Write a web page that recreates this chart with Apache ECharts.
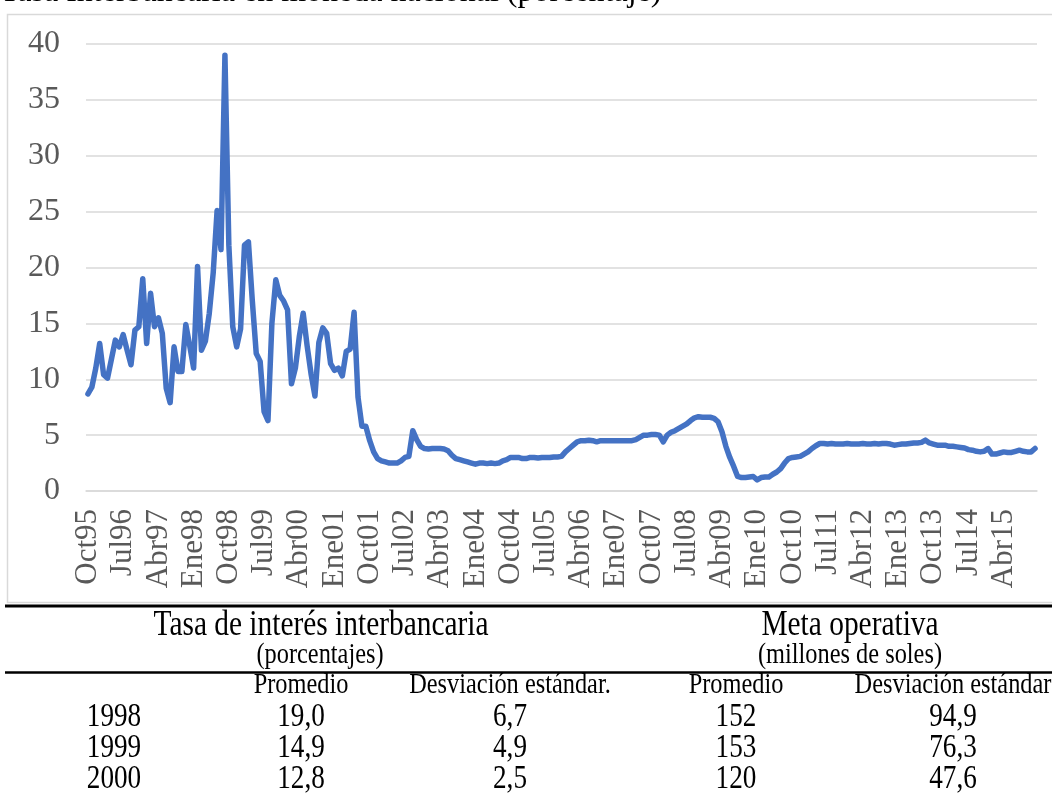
<!DOCTYPE html>
<html>
<head>
<meta charset="utf-8">
<title>Tasa interbancaria</title>
<script src="https://cdn.jsdelivr.net/npm/echarts@6/dist/echarts.min.js"></script>
<style>
  html, body { margin: 0; padding: 0; background: #fff; }
  #chart { width: 1052px; height: 796px; }
</style>
</head>
<body>
<div id="chart"></div>
<script>
// tasa interbancaria mensual (%), desde Oct95
const rate1995_1998 = [8.7, 9.3, 11.0,
  13.2, 10.4, 10.1, 11.8, 13.5, 12.9, 14.0, 12.6, 11.3, 14.4, 14.7, 19.0,
  13.2, 17.7, 14.7, 15.5, 14.1, 9.2, 7.9, 12.9, 10.7, 10.7, 14.9, 13.0,
  11.0, 20.1, 12.6, 13.4, 15.9, 19.5, 25.1, 21.6, 39.0, 22.0, 14.7, 12.9];
const rate1999_2002 = [
  14.5, 22.0, 22.3, 17.0, 12.3, 11.6, 7.1, 6.3, 15.0, 18.9, 17.5, 17.0,
  16.2, 9.6, 11.0, 13.8, 15.9, 13.0, 10.5, 8.5, 13.3, 14.6, 14.1, 11.4,
  10.8, 11.0, 10.3, 12.5, 12.7, 16.0, 8.4, 5.8, 5.8, 4.5, 3.5, 2.9,
  2.7, 2.6, 2.5, 2.5, 2.5, 2.7, 3.0, 3.1, 5.4, 4.6, 4.0, 3.8];
const rate2003_2006 = [
  3.75, 3.8, 3.8, 3.8, 3.75, 3.6, 3.2, 2.9, 2.8, 2.7, 2.6, 2.5,
  2.4, 2.5, 2.5, 2.45, 2.5, 2.45, 2.5, 2.7, 2.8, 3.0, 3.0, 3.0,
  2.9, 2.9, 3.0, 3.0, 2.95, 3.0, 3.0, 3.0, 3.05, 3.05, 3.1, 3.5,
  3.8, 4.1, 4.4, 4.5, 4.5, 4.55, 4.5, 4.4, 4.5, 4.5, 4.5, 4.5];
const rate2007_2010 = [
  4.5, 4.5, 4.5, 4.5, 4.5, 4.6, 4.8, 5.0, 5.0, 5.05, 5.05, 5.0,
  4.4, 5.0, 5.25, 5.4, 5.6, 5.8, 6.0, 6.3, 6.55, 6.65, 6.6, 6.6,
  6.6, 6.5, 6.2, 5.3, 4.0, 3.0, 2.2, 1.3, 1.2, 1.2, 1.25, 1.3,
  1.0, 1.2, 1.25, 1.25, 1.5, 1.7, 2.0, 2.5, 2.9, 3.0, 3.05, 3.1];
const rate2011_2015 = [
  3.3, 3.5, 3.8, 4.05, 4.25, 4.25, 4.2, 4.25, 4.2, 4.2, 4.2, 4.25,
  4.2, 4.2, 4.2, 4.25, 4.2, 4.2, 4.25, 4.2, 4.25, 4.25, 4.2, 4.1,
  4.15, 4.2, 4.2, 4.25, 4.3, 4.3, 4.35, 4.55, 4.3, 4.2, 4.1, 4.1,
  4.1, 4.0, 4.0, 3.95, 3.9, 3.85, 3.7, 3.65, 3.55, 3.5, 3.55, 3.8,
  3.3, 3.3, 3.4, 3.5, 3.45, 3.45, 3.55, 3.65, 3.55, 3.5, 3.5, 3.8];

const monthNames = ['Ene', 'Feb', 'Mar', 'Abr', 'May', 'Jun', 'Jul', 'Ago', 'Sep', 'Oct', 'Nov', 'Dic'];
const startYear = 1995;
const startMonth = 9; // Oct

// tabla de abajo
const tableYears = ['1998', '1999', '2000'];
const tasaPromedio = ['19,0', '14,9', '12,8'];
const tasaDesviacion = ['6,7', '4,9', '2,5'];
const metaPromedio = ['152', '153', '120'];
const metaDesviacion = ['94,9', '76,3', '47,6'];
const tableHeaders = ['Promedio', 'Desviación estándar.', 'Promedio', 'Desviación estándar'];

const rates = [].concat(rate1995_1998, rate1999_2002, rate2003_2006, rate2007_2010, rate2011_2015);
const months = rates.map(function (v, i) {
  const m = startMonth + i;
  const yy = String((startYear + Math.floor(m / 12)) % 100).padStart(2, '0');
  return monthNames[m % 12] + yy;
});

const serif = '"Times New Roman", "Liberation Serif", serif';
const colX = [114, 301, 510, 736, 953];

// texto de la tabla (letra angosta, como en el original)
function txt(text, x, y, size, sx) {
  return {
    type: 'text',
    x: x,
    y: y,
    scaleX: sx || 1,
    style: {
      text: text, x: 0, y: 0,
      font: size + 'px ' + serif,
      fill: '#000',
      textAlign: 'center',
      textVerticalAlign: 'bottom'
    }
  };
}

const title = txt('Tasa Interbancaria en moneda nacional (porcentaje)', 0, 9, 32);
title.style.textAlign = 'left';

const graphics = [
  {
    type: 'rect',
    shape: { x: 7.5, y: 14.5, width: 1060, height: 588 },
    style: { fill: 'none', stroke: '#d9d9d9', lineWidth: 1.5 },
    z: -1
  },
  title,
  { type: 'line', shape: { x1: 5, y1: 606, x2: 1052, y2: 606 }, style: { stroke: '#000', lineWidth: 3 } },
  txt('Tasa de interés interbancaria', 321, 643, 35, 0.84),
  txt('(porcentajes)', 320, 670, 29, 0.84),
  txt('Meta operativa', 850, 643, 35, 0.84),
  txt('(millones de soles)', 850, 670, 29, 0.84),
  { type: 'line', shape: { x1: 5, y1: 672.5, x2: 1052, y2: 672.5 }, style: { stroke: '#000', lineWidth: 2.5 } }
];

tableHeaders.forEach(function (h, k) {
  graphics.push(txt(h, colX[k + 1], 700, 29, 0.84));
});
tableYears.forEach(function (yr, r) {
  const y = 734 + r * 31;
  graphics.push(txt(yr, colX[0], y, 34, 0.8));
  graphics.push(txt(tasaPromedio[r], colX[1], y, 34, 0.8));
  graphics.push(txt(tasaDesviacion[r], colX[2], y, 34, 0.8));
  graphics.push(txt(metaPromedio[r], colX[3], y, 34, 0.8));
  graphics.push(txt(metaDesviacion[r], colX[4], y, 34, 0.8));
});

const chart = echarts.init(document.getElementById('chart'));
chart.setOption({
  animation: false,
  backgroundColor: '#fff',
  grid: { left: 86, right: 15, top: 44, bottom: 305 },
  xAxis: {
    type: 'category',
    data: months,
    boundaryGap: true,
    axisLine: { show: true, lineStyle: { color: '#d9d9d9', width: 1.5 } },
    axisTick: { show: false },
    axisLabel: {
      interval: 8,
      rotate: 90,
      margin: 18,
      color: '#595959',
      fontFamily: serif,
      fontSize: 31
    }
  },
  yAxis: {
    type: 'value',
    min: 0,
    max: 40,
    interval: 5,
    axisLine: { show: false },
    axisTick: { show: false },
    axisLabel: { color: '#595959', fontFamily: serif, fontSize: 32, margin: 26 },
    splitLine: { lineStyle: { color: '#d9d9d9', width: 1.5 } }
  },
  series: [{
    type: 'line',
    data: rates,
    showSymbol: false,
    lineStyle: { color: '#4472C4', width: 5.5, cap: 'round', join: 'round' }
  }],
  graphic: graphics
});
</script>
</body>
</html>
